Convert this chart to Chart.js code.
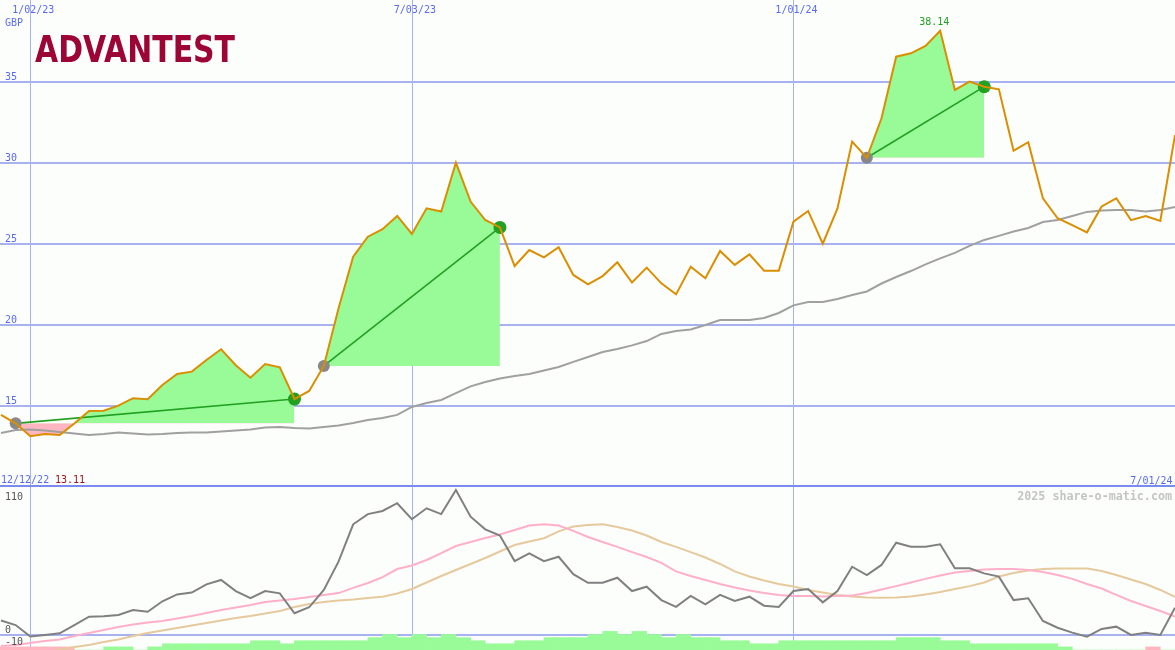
<!DOCTYPE html>
<html>
<head>
<meta charset="utf-8">
<script src="https://cdn.jsdelivr.net/npm/chart.js@4.4.1/dist/chart.umd.min.js"></script>
<style>
  html, body { margin: 0; padding: 0; background: #fcfefc; }
  #wrap { position: relative; width: 1175px; height: 650px; overflow: hidden; }
  canvas { position: absolute; left: 0; }
  #price { top: 0; }
  #osc { top: 487px; }
</style>
</head>
<body>
<div id="wrap">
  <canvas id="price" width="1175" height="487"></canvas>
  <canvas id="osc" width="1175" height="163"></canvas>
</div>
<script>
// weekly closes, week 0 = Mon 2 Jan 2023, first point two weeks earlier
const firstWeek = -2;
const price = [
  14.43, 13.91, 13.11, 13.25, 13.19, 13.9, 14.67, 14.69, 15.0, 15.46,
  15.4, 16.28, 16.96, 17.1, 17.82, 18.48, 17.5, 16.73, 17.57, 17.37,
  15.41, 15.91, 17.45, 21.0, 24.2, 25.43, 25.89, 26.71, 25.6, 27.18,
  26.98, 30.0, 27.6, 26.46, 26.0, 23.62, 24.61, 24.16, 24.78, 23.07,
  22.49, 23.0, 23.85, 22.6, 23.52, 22.55, 21.87, 23.58, 22.86, 24.55,
  23.69, 24.34, 23.33, 23.33, 26.36, 27.02, 25.0, 27.18, 31.3, 30.3,
  32.74, 36.54, 36.75, 37.2, 38.14, 34.49, 35.0, 34.69, 34.53, 30.74,
  31.26, 27.8, 26.57, 26.14, 25.7, 27.3, 27.8, 26.45, 26.7, 26.4,
  31.7
];
const avg = [
  13.31, 13.5, 13.53, 13.47, 13.38, 13.28, 13.19, 13.25, 13.35, 13.28,
  13.22, 13.25, 13.31, 13.35, 13.35, 13.41, 13.47, 13.53, 13.65, 13.69,
  13.62, 13.59, 13.69, 13.78, 13.93, 14.12, 14.24, 14.43, 14.92, 15.17,
  15.35, 15.78, 16.19, 16.46, 16.68, 16.83, 16.96, 17.17, 17.39, 17.7,
  18.0, 18.31, 18.5, 18.72, 18.99, 19.43, 19.61, 19.7, 19.98, 20.29,
  20.29, 20.29, 20.41, 20.72, 21.19, 21.4, 21.4, 21.59, 21.83, 22.05,
  22.54, 22.94, 23.31, 23.72, 24.09, 24.43, 24.86, 25.23, 25.48, 25.75,
  25.97, 26.34, 26.46, 26.71, 26.96, 27.05, 27.08, 27.08, 26.99, 27.08,
  27.27
];
// oscillator panel
const oscFast = [
  11.8, 8.0, -1.5, -0.2, 1.2, 8.0, 15.0, 15.4, 16.4, 20.5,
  19.1, 27.8, 33.5, 35.0, 41.9, 45.5, 36.3, 30.3, 36.3, 34.4,
  17.8, 22.8, 37.2, 60.7, 91.8, 100.3, 102.9, 109.3, 96.0, 105.1,
  100.3, 120.3, 98.1, 87.6, 82.4, 61.2, 67.7, 61.2, 64.8, 50.3,
  43.2, 43.2, 47.4, 36.3, 39.9, 28.8, 23.2, 32.2, 25.2, 33.1,
  28.0, 31.6, 24.1, 23.0, 36.3, 38.0, 26.9, 36.3, 56.5, 49.6,
  58.0, 76.5, 73.2, 73.2, 75.2, 55.2, 55.2, 51.0, 48.3, 28.8,
  30.3, 11.4, 5.8, 1.7, -1.7, 4.8, 6.7, -0.2, 1.7, -0.2,
  22.5
];
const oscMid = [
  -9.4, -8.6, -6.9, -5.3, -4.0, -1.1, 1.4, 3.9, 6.4, 8.4,
  10.1, 11.4, 13.5, 15.5, 18.1, 20.5, 22.6, 24.7, 27.1, 28.4,
  29.7, 31.4, 33.1, 34.6, 38.9, 43.0, 47.9, 54.6, 57.6, 62.1,
  67.9, 73.7, 77.1, 80.4, 83.3, 87.0, 90.8, 91.8, 90.8, 86.3,
  81.2, 77.1, 73.0, 68.7, 64.6, 59.7, 52.6, 48.8, 45.5, 42.1,
  39.3, 36.7, 34.6, 33.1, 32.2, 32.2, 31.8, 32.2, 32.6, 34.6,
  37.6, 40.4, 43.4, 46.4, 49.2, 51.7, 53.0, 54.2, 54.6, 54.6,
  53.8, 52.2, 49.6, 46.4, 42.1, 38.4, 33.1, 28.0, 23.9, 19.7,
  15.1
];
const oscSlow = [
  -18, -16.4, -15.3, -14.3, -12.4, -10.2, -8.6, -6.0, -4.0, -1.1,
  1.4, 3.5, 5.6, 7.6, 9.7, 11.8, 13.8, 15.5, 17.6, 19.7,
  23.0, 25.6, 27.1, 28.4, 29.3, 30.5, 31.6, 34.2, 38.0, 43.4,
  48.8, 53.8, 58.8, 63.8, 69.2, 74.6, 77.5, 80.2, 85.9, 90.0,
  91.2, 91.8, 89.5, 86.6, 82.5, 77.1, 73.0, 68.7, 64.2, 58.8,
  52.6, 48.4, 45.1, 42.1, 40.1, 37.2, 35.1, 33.1, 31.8, 30.9,
  30.7, 30.9, 31.8, 33.5, 35.5, 38.0, 40.4, 43.4, 48.4, 51.3,
  53.4, 54.6, 55.0, 55.0, 55.0, 53.0, 49.6, 45.9, 42.1, 37.2,
  31.4
];
// histogram, one bar per week starting at week -3 (negative = pink)
const histFirstWeek = -3;
const hist = [
  -1, -1, -1, -1, -1, -1, 0, 0, 1, 1,
  0, 1, 2, 2, 2, 2, 2, 2, 3, 3,
  2, 3, 3, 3, 3, 3, 4, 5, 4, 5,
  4, 5, 4, 3, 2, 2, 3, 3, 4, 4,
  4, 5, 6, 5, 6, 5, 4, 5, 4, 4,
  3, 3, 2, 2, 3, 3, 3, 3, 3, 3,
  3, 3, 4, 4, 4, 3, 3, 2, 2, 2,
  2, 2, 2, 1, 0, 0, 0, 0, 0, -1,
  0
];

const dateTickWeeks = [0, 26, 52];
const dateTickLabels = ['1/02/23', '7/03/23', '1/01/24'];
const priceTicks = [15, 20, 25, 30, 35];
const oscTicks = [110, 0, -10];
const trendStart = [-1, 20, 57];
const trendEnd = [18, 32, 65];
const highWeek = 62;
const highLabel = '38.14';
const lowLabel = '13.11';
const rangeStart = '12/12/22';
const rangeEnd = '7/01/24';

const GRID = '#a8b2f0';
const SEP = '#7a8aee';
const BLUE = '#5a6af0';
const GREEN = '#98fb98';
const PINK = '#ffb6c1';
const TREND = '#22a022';
const MONO = '"DejaVu Sans Mono", monospace';

const pts = (arr, start) => arr.map((v, i) => ({ x: start + i, y: v }));
const priceAt = w => price[w - firstWeek];

const xScale = { type: 'linear', display: false, min: -2.066, max: 78, offset: false };

const priceSets = [
  { data: pts(price, firstWeek), borderColor: '#da8e00', borderWidth: 2, order: 0 },
  { data: pts(avg, firstWeek), borderColor: '#a0a0a0', borderWidth: 2, order: 2 }
];
trendStart.forEach((s, k) => {
  const e = trendEnd[k];
  const base = priceAt(s);
  priceSets.push({
    data: pts(price, firstWeek).slice(s - firstWeek, e - firstWeek + 1),
    borderWidth: 0, borderColor: 'rgba(0,0,0,0)',
    fill: { target: { value: base }, above: GREEN, below: PINK },
    order: 5
  });
  priceSets.push({
    data: [{ x: s, y: base }, { x: e, y: priceAt(e) }],
    borderColor: TREND, borderWidth: 1.6,
    pointRadius: [6, 6.5], pointBorderWidth: 0,
    pointBackgroundColor: ['#888888', TREND],
    order: 1
  });
});

const pricePanel = {
  id: 'pricePanel',
  beforeDatasetsDraw(chart) {
    const { ctx, width, height } = chart;
    const { x, y } = chart.scales;
    ctx.save();
    ctx.fillStyle = GRID;
    priceTicks.forEach(t => ctx.fillRect(0, Math.round(y.getPixelForValue(t)) - 1, width, 2));
    dateTickWeeks.forEach(w => ctx.fillRect(Math.round(x.getPixelForValue(w)), 0, 1, height));
    ctx.restore();
  },
  afterDatasetsDraw(chart) {
    const { ctx, width } = chart;
    const { x, y } = chart.scales;
    ctx.save();
    ctx.fillStyle = SEP;
    ctx.fillRect(0, Math.round(y.getPixelForValue(10)) - 2, width, 2);

    ctx.font = '10px ' + MONO;
    ctx.fillStyle = BLUE;
    ctx.textAlign = 'left';
    priceTicks.forEach(t => ctx.fillText(String(t), 5, y.getPixelForValue(t) - 2));
    ctx.fillText('GBP', 5, 25.5);
    ctx.fillText(rangeStart, 1, 483);
    ctx.textAlign = 'center';
    dateTickWeeks.forEach((w, i) => ctx.fillText(dateTickLabels[i], x.getPixelForValue(w) + 3, 13));
    ctx.textAlign = 'right';
    ctx.fillText(rangeEnd, 1172.5, 483.5);

    ctx.textAlign = 'left';
    ctx.fillStyle = '#a0141e';
    ctx.fillText(lowLabel, 55, 483);
    ctx.textAlign = 'center';
    ctx.fillStyle = TREND;
    ctx.fillText(highLabel, x.getPixelForValue(highWeek) - 6, 25);

    ctx.textAlign = 'left';
    ctx.fillStyle = '#9c0534';
    ctx.font = 'bold 37px "DejaVu Sans", sans-serif';
    ctx.fillText('ADVANTEST', 35, 62, 200);
    ctx.restore();
  }
};

new Chart(document.getElementById('price'), {
  type: 'line',
  data: { datasets: priceSets },
  options: {
    responsive: false, animation: false, devicePixelRatio: 1, events: [],
    layout: { autoPadding: false, padding: 0 },
    plugins: { legend: { display: false }, tooltip: { enabled: false } },
    elements: { point: { radius: 0 }, line: { tension: 0 } },
    scales: { x: xScale, y: { type: 'linear', display: false, min: 9.98, max: 40.04 } }
  },
  plugins: [pricePanel]
});

const oscPanel = {
  id: 'oscPanel',
  beforeDatasetsDraw(chart) {
    const { ctx, width, height } = chart;
    const { x, y } = chart.scales;
    ctx.save();
    ctx.fillStyle = GRID;
    dateTickWeeks.forEach(w => ctx.fillRect(Math.round(x.getPixelForValue(w)), 0, 1, height));
    ctx.fillRect(0, Math.round(y.getPixelForValue(0)) - 1, width, 2);
    ctx.restore();
  },
  afterDatasetsDraw(chart) {
    const { ctx } = chart;
    const { y } = chart.scales;
    ctx.save();
    ctx.font = '10px ' + MONO;
    ctx.fillStyle = '#555555';
    ctx.textAlign = 'left';
    oscTicks.forEach(t => ctx.fillText(String(t), 5, y.getPixelForValue(t) - 2));
    ctx.font = 'bold 11.7px ' + MONO;
    ctx.fillStyle = '#c4c4c4';
    ctx.textAlign = 'right';
    ctx.fillText('2025 share-o-matic.com', 1172, 13);
    ctx.restore();
  }
};

new Chart(document.getElementById('osc'), {
  type: 'line',
  data: {
    datasets: [
      { data: pts(oscFast, firstWeek), borderColor: '#808080', borderWidth: 2, order: 0 },
      { data: pts(oscMid, firstWeek), borderColor: '#ffb0c8', borderWidth: 2, order: 1 },
      { data: pts(oscSlow, firstWeek), borderColor: '#e6c99c', borderWidth: 2, order: 2 },
      {
        type: 'bar', yAxisID: 'yh', order: 5,
        data: hist.map((v, i) => ({ x: histFirstWeek + i + 0.5, y: Math.abs(v) })),
        backgroundColor: hist.map(v => v < 0 ? PINK : GREEN),
        borderWidth: 0, barPercentage: 1, categoryPercentage: 1
      }
    ]
  },
  options: {
    responsive: false, animation: false, devicePixelRatio: 1, events: [],
    layout: { autoPadding: false, padding: 0 },
    plugins: { legend: { display: false }, tooltip: { enabled: false } },
    elements: { point: { radius: 0 }, line: { tension: 0 } },
    scales: {
      x: xScale,
      y: { type: 'linear', display: false, min: -12.72, max: 122.8 },
      yh: { type: 'linear', display: false, min: 0, max: 52.58 }
    }
  },
  plugins: [oscPanel]
});
</script>
</body>
</html>
